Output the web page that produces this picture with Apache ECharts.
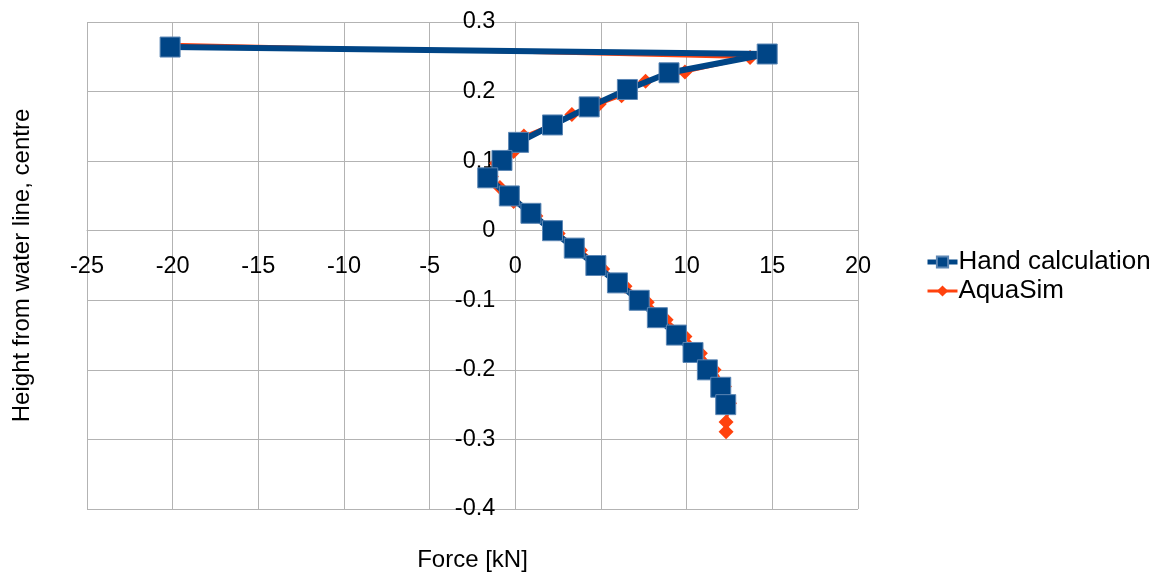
<!DOCTYPE html>
<html>
<head>
<meta charset="utf-8">
<script src="https://cdn.jsdelivr.net/npm/echarts@6/dist/echarts.min.js"></script>
<style>
html,body{margin:0;padding:0;background:#fff;}
#chart{width:1155px;height:577px;}
</style>
</head>
<body>
<div id="chart"></div>
<script>
// Hand calculation: [force kN, height]
const handForce  = [-20.15, 14.7, 8.97, 6.54, 4.31, 2.17, 0.19, -0.78, -1.61, -0.35, 0.91, 2.17, 3.44, 4.70, 5.96, 7.23, 8.29, 9.40, 10.37, 11.21, 11.99, 12.28];
const handHeight = [0.264, 0.254, 0.227, 0.203, 0.178, 0.152, 0.127, 0.101, 0.076, 0.05, 0.025, 0, -0.025, -0.05, -0.075, -0.1, -0.125, -0.15, -0.175, -0.2, -0.225, -0.25];

// AquaSim
const aquaForce  = [-20.1, 13.7, 9.9, 7.6, 6.2, 4.9, 3.3, 2.0, 0.5, -0.1, -1.1, -1.4, -0.9, -0.1, 1.2, 2.5, 3.8, 5.1, 6.4, 7.7, 8.8, 9.9, 10.8, 11.6, 12.2, 12.5, 12.3, 12.3];
const aquaHeight = [0.268, 0.249, 0.228, 0.215, 0.194, 0.182, 0.167, 0.151, 0.136, 0.114, 0.097, 0.078, 0.062, 0.042, 0.021, -0.004, -0.028, -0.055, -0.080, -0.103, -0.128, -0.152, -0.176, -0.200, -0.224, -0.248, -0.275, -0.289];

const seriesNames = ['Hand calculation', 'AquaSim'];
const xTitle = 'Force [kN]';
const yTitle = 'Height from water line, centre';

const zip = (a, b) => a.map((v, i) => [v, b[i]]);

const chart = echarts.init(document.getElementById('chart'), null, {renderer: 'canvas'});
const font = 'Liberation Sans, Arial, sans-serif';
const gridColor = '#b3b3b3';
const G = {left: 87, right: 297, top: 22, bottom: 68};
const W = 1155, H = 577;

chart.setOption({
  backgroundColor: '#fff',
  animation: false,
  textStyle: {fontFamily: font},
  grid: {left: G.left, right: G.right, top: G.top, bottom: G.bottom, containLabel: false, outerBoundsMode: 'none'},
  legend: {
    orient: 'vertical',
    left: 920,
    top: 244,
    itemGap: 3,
    itemWidth: 30,
    itemHeight: 14,
    data: [
      {name: seriesNames[0], lineStyle: {width: 5}},
      {name: seriesNames[1], lineStyle: {width: 3}}
    ],
    textStyle: {fontFamily: font, fontSize: 26, color: '#000', padding: [0, 0, 0, -4]}
  },
  xAxis: {
    type: 'value',
    min: -25, max: 20, interval: 5,
    axisLine: {onZero: false, lineStyle: {color: gridColor, width: 1}},
    axisTick: {show: true, length: 9, inside: false, lineStyle: {color: gridColor}},
    axisLabel: {fontFamily: font, fontSize: 23.5, color: '#000', margin: 24},
    splitLine: {show: true, lineStyle: {color: gridColor, width: 1}}
  },
  yAxis: {
    type: 'value',
    min: -0.4, max: 0.3, interval: 0.1,
    axisLine: {onZero: false, lineStyle: {color: gridColor, width: 1}},
    axisTick: {show: true, length: 9, lineStyle: {color: gridColor}},
    axisLabel: {fontFamily: font, fontSize: 23.5, color: '#000', margin: 20,
      formatter: v => (Math.round(v * 10) / 10).toString()},
    splitLine: {show: true, lineStyle: {color: gridColor, width: 1}}
  },
  graphic: [
    {type: 'text', x: (G.left + (W - G.right)) / 2, y: 560,
      style: {text: xTitle, font: '24px ' + font, fill: '#000', x: 0, y: 0, align: 'center', verticalAlign: 'middle'}},
    {type: 'text', rotation: Math.PI / 2, x: 22, y: (G.top + (H - G.bottom)) / 2,
      style: {text: yTitle, font: '24px ' + font, fill: '#000', x: 0, y: 0, align: 'center', verticalAlign: 'middle'}}
  ],
  series: [
    {
      name: seriesNames[0],
      type: 'line',
      z: 4,
      data: zip(handForce, handHeight),
      symbol: 'rect',
      symbolSize: 20,
      color: '#004586',
      lineStyle: {color: '#004586', width: 6},
      itemStyle: {color: '#004586', borderColor: '#5b86b4', borderWidth: 1}
    },
    {
      name: seriesNames[1],
      type: 'line',
      z: 3,
      data: zip(aquaForce, aquaHeight),
      symbol: 'diamond',
      symbolSize: [15, 15],
      color: '#ff420e',
      lineStyle: {color: '#ff420e', width: 3},
      itemStyle: {color: '#ff420e'}
    }
  ]
});

// Move the axis lines (with ticks and labels) so they cross at the origin, like the reference.
const origin = chart.convertToPixel({gridIndex: 0}, [0, 0]);
chart.setOption({
  xAxis: {offset: -((H - G.bottom) - origin[1])},
  yAxis: {offset: -(origin[0] - G.left)}
});
</script>
</body>
</html>
